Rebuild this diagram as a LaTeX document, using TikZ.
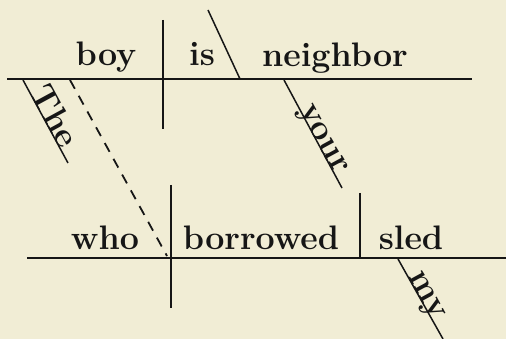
\documentclass[tikz,border=0pt]{standalone}
\usepackage{tikz}
\usetikzlibrary{positioning, calc}
\definecolor{diagPaper}{HTML}{F1EDD5}
\definecolor{diagInk}{HTML}{161616}

\begin{document}
\begin{tikzpicture}[
  x=1pt, y=-1pt,
  word/.style={font=\fontsize{34}{36}\selectfont\bfseries, text=diagInk, inner sep=0pt, anchor=base},
  slantword/.style={word, rotate=-61.5},
  rule/.style={draw=diagInk, line width=1.9pt},
  slant/.style={draw=diagInk, line width=1.5pt},
  link/.style={draw=diagInk, line width=1.8pt, dash pattern=on 10pt off 8pt},
]
\fill[diagPaper] (0,0) rectangle (506,339);
\useasboundingbox (0,0) rectangle (506,339);

% Main clause
\coordinate (topL) at (7,79);
\coordinate (topR) at (472,79);
\coordinate (svT) at (163,20);
\coordinate (svB) at (163,129);
\coordinate (vcT) at (208,10);
\coordinate (vcB) at (240,79);
\draw[rule] (topL) -- (topR);
\draw[rule] (svT) -- (svB);
\draw[slant] (vcT) -- (vcB);

\node[word] (boy) at (106,66) {boy};
\node[word] (is) at (202,66) {is};
\node[word] (neighbor) at (335,67) {neighbor};

% Modifiers of the main clause
\coordinate (theT) at (23,80);
\coordinate (theB) at (68,163);
\coordinate (yourT) at (284,80);
\coordinate (yourB) at (342,188);
\draw[slant] (theT) -- (theB);
\draw[slant] (yourT) -- (yourB);
\node[slantword] (the) at ($(theT)!0.5!(theB)$) {The};
\node[slantword] (your) at ($(yourT)!0.58!(yourB)$) {your};

% Relative clause
\coordinate (botL) at (27,258);
\coordinate (botR) at (506,258);
\coordinate (wbT) at (171,185);
\coordinate (wbB) at (171,308);
\coordinate (voT) at (360,193);
\coordinate (voB) at (360,258);
\draw[rule] (botL) -- (botR);
\draw[rule] (wbT) -- (wbB);
\draw[rule] (voT) -- (voB);

\node[word] (who) at (105,250) {who};
\node[word] (borrowed) at (261,250) {borrowed};
\node[word] (sled) at (411,250) {sled};

\coordinate (myT) at (398,259);
\coordinate (myB) at (443,339);
\draw[slant] (myT) -- (myB);
\node[slantword] (my) at ($(myT)!0.5!(myB)$) {my};

% Dashed link from boy to who
\coordinate (linkT) at (70,80);
\coordinate (linkB) at (167,256);
\draw[link] (linkT) -- (linkB);

\end{tikzpicture}
\end{document}
